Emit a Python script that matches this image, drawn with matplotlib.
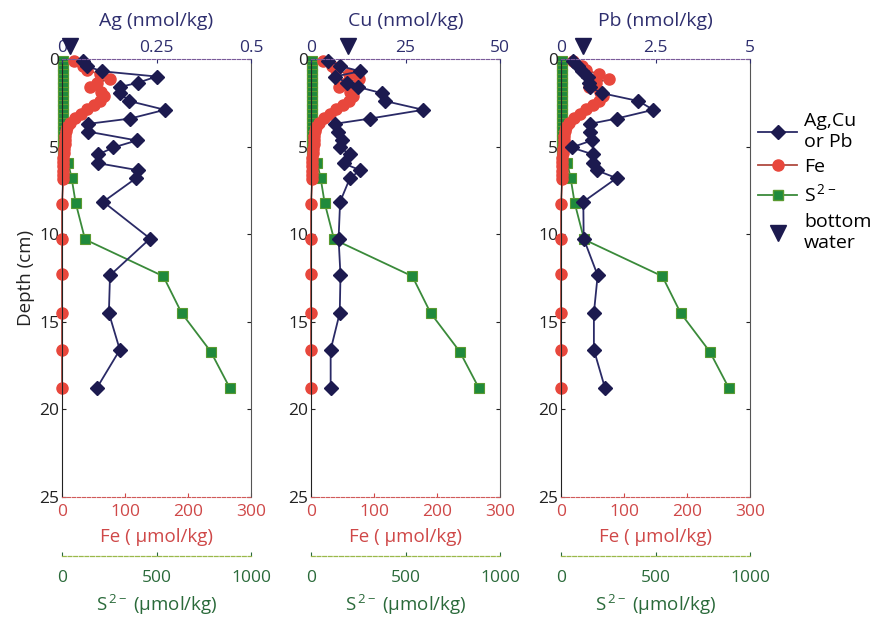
import matplotlib
matplotlib.use("Agg")
import matplotlib.pyplot as plt
from matplotlib.lines import Line2D

plt.rcParams['font.family'] = ['Open Sans', 'DejaVu Sans']
plt.rcParams['mathtext.fontset'] = 'custom'
plt.rcParams['mathtext.rm'] = 'Open Sans'
plt.rcParams['mathtext.it'] = 'Open Sans:italic'

# ---------------- data ----------------
metal_depth = [0.1, 0.4, 0.7, 1.0, 1.35, 1.6, 1.95, 2.4, 2.9, 3.4, 3.7, 4.15,
               4.65, 5.05, 5.45, 5.95, 6.35, 6.8, 8.15, 10.25, 12.35, 14.5, 16.6, 18.75]
ag = [0.056, 0.065, 0.105, 0.25, 0.202, 0.153, 0.153, 0.178, 0.272, 0.18, 0.07, 0.07,
      0.198, 0.136, 0.096, 0.096, 0.202, 0.196, 0.109, 0.233, 0.127, 0.124, 0.153, 0.093]
cu = [4.6, 7.7, 13.0, 6.3, 9.4, 12.5, 18.7, 19.6, 29.7, 15.6, 6.3, 7.2,
      8.1, 7.7, 10.3, 8.6, 13.0, 10.3, 7.7, 7.3, 7.8, 7.6, 5.2, 5.2]
pb = [0.33, 0.46, 0.55, 0.72, 0.75, 0.77, 1.08, 2.05, 2.44, 1.47, 0.77, 0.77,
      0.81, 0.28, 0.85, 0.85, 0.94, 1.47, 0.59, 0.60, 0.97, 0.87, 0.87, 1.16]

fe_depth = [0.125, 0.375, 0.625, 0.875, 1.125, 1.375, 1.625, 1.875, 2.125, 2.375,
            2.625, 2.875, 3.125, 3.375, 3.625, 3.875, 4.125, 4.375, 4.625, 4.875,
            5.125, 5.375, 5.625, 5.875, 6.125, 6.375, 6.625, 6.875,
            8.25, 10.3, 12.3, 14.5, 16.6, 18.75]
fe = [19, 34, 40, 60, 76, 55, 45, 62, 66, 60, 50, 40, 30, 20, 12, 8, 6, 5, 4, 4,
      3, 3, 2, 2, 2, 2, 2, 2, 0, 0, 0, 0, 0, 0]

s_depth = [0.125, 0.375, 0.625, 0.875, 1.125, 1.375, 1.625, 1.875, 2.125, 2.375,
           2.625, 2.875, 3.125, 3.375, 3.625, 3.875, 4.125, 4.375, 4.625, 4.875,
           5.125, 5.375, 5.95, 6.8, 8.2, 10.3, 12.4, 14.5, 16.7, 18.8]
s2 = [3, 3, 3, 3, 3, 3, 3, 3, 3, 3, 3, 3, 3, 3, 3, 3, 3, 3, 3, 3,
      3, 3, 33, 51, 72, 122, 536, 633, 787, 889]

metal_names = ['Ag (nmol/kg)', 'Cu (nmol/kg)', 'Pb (nmol/kg)']
metal_vals = [ag, cu, pb]
metal_max = [0.5, 50, 5]
metal_ticks = [[0, 0.25, 0.5], [0, 25, 50], [0, 2.5, 5]]
metal_ticklabels = [['0', '0.25', '0.5'], ['0', '25', '50'], ['0', '2.5', '5']]
bottom_water = [0.021, 9.8, 0.57]
bw_depth = -0.75

fe_ticks = [0, 100, 200, 300]
s_ticks = [0, 500, 1000]
depth_ticks = [0, 5, 10, 15, 20, 25]

# ---------------- styles ----------------
NAVY = '#1c1a4f'
NAVY_T = '#2e2e6e'
RED = '#e8473c'
RED_L = '#b04a40'
RED_T = '#cf4848'
GREEN = '#1f8a3c'
GREEN_L = '#3a8a3a'
GREEN_T = '#2a6a3a'
GREEN_E = '#5a9a30'

TICK_FS = 12.5
LABEL_FS = 13.5

fig = plt.figure(figsize=(8.82, 6.21), dpi=100)
lefts = [62 / 882, 311 / 882, 561 / 882]
bottom = 1 - 497 / 621
width = 189 / 882
height = 438 / 621

for i in range(3):
    ax = fig.add_axes([lefts[i], bottom, width, height])
    ax_s = ax.twiny()
    ax_m = ax.twiny()
    ax.patch.set_visible(False)
    ax_s.set_zorder(1)
    ax.set_zorder(2)
    ax_m.set_zorder(3)

    # depth axis
    ax.set_ylim(25, 0)
    ax.set_yticks(depth_ticks)
    ax.tick_params(axis='y', which='both', left=True, right=True, direction='in',
                   length=3, labelsize=TICK_FS, pad=2, colors='#222222')

    # Fe axis (bottom)
    ax.set_xlim(0, 300)
    ax.set_xticks(fe_ticks)
    ax.tick_params(axis='x', direction='in', length=3, labelsize=TICK_FS, pad=5,
                   colors=RED_T, top=False)
    ax.set_xlabel('Fe ( \u00b5mol/kg)', color=RED_T, fontsize=LABEL_FS, labelpad=6)
    ax.spines['top'].set_visible(False)
    ax.spines['left'].set_color('#222222')
    ax.spines['right'].set_color('#555555')
    ax.spines['bottom'].set_color('#d05a5a')
    ax.spines['bottom'].set_linestyle((0, (3, 1.5)))
    ax.plot(fe, fe_depth, '-o', color=RED_L, mfc=RED, mec=RED, ms=8, lw=1.3,
            clip_on=False)

    # S axis (outer bottom)
    ax_s.xaxis.set_ticks_position('bottom')
    ax_s.xaxis.set_label_position('bottom')
    ax_s.spines['bottom'].set_position(('outward', 42.5))
    for sp in ['top', 'left', 'right']:
        ax_s.spines[sp].set_visible(False)
    ax_s.spines['bottom'].set_color('#9ab84a')
    ax_s.spines['bottom'].set_linestyle((0, (3, 1.5)))
    ax_s.spines['bottom'].set_linewidth(0.9)
    ax_s.set_xlim(0, 1000)
    ax_s.set_xticks(s_ticks)
    ax_s.tick_params(axis='x', direction='in', length=3, labelsize=TICK_FS, pad=10,
                     colors=GREEN_T)
    ax_s.set_xlabel('S$^{\\,2-}$ (\u00b5mol/kg)', color=GREEN_T, fontsize=LABEL_FS,
                    labelpad=5)
    ax_s.plot(s2, s_depth, '-s', color=GREEN_L, mfc=GREEN, mec=GREEN_E, ms=7,
              mew=0.8, lw=1.3, clip_on=False)

    # metal axis (top)
    for sp in ['bottom', 'left', 'right']:
        ax_m.spines[sp].set_visible(False)
    ax_m.spines['top'].set_color('#7a5a9a')
    ax_m.spines['top'].set_linestyle((0, (3, 1.5)))
    ax_m.set_xlim(0, metal_max[i])
    ax_m.set_xticks(metal_ticks[i])
    ax_m.set_xticklabels(metal_ticklabels[i])
    ax_m.tick_params(axis='x', direction='in', length=3, labelsize=TICK_FS, pad=2,
                     colors=NAVY_T)
    ax_m.set_xlabel(metal_names[i], color=NAVY_T, fontsize=LABEL_FS + 0.5, labelpad=10)
    ax_m.plot(metal_vals[i], metal_depth, '-D', color='#2a2a66', mfc=NAVY,
              mec=NAVY, ms=7.5, lw=1.3, clip_on=False)
    ax_m.plot([bottom_water[i]], [bw_depth], 'v', color=NAVY, ms=11.5,
              clip_on=False)

    if i == 0:
        ax.set_ylabel('Depth (cm)', fontsize=LABEL_FS, color='#222222', labelpad=3)

handles = [
    Line2D([], [], color='#2a2a66', marker='D', mfc=NAVY, mec=NAVY, ms=7.5, lw=1.3),
    Line2D([], [], color=RED_L, marker='o', mfc=RED, mec=RED, ms=8, lw=1.3),
    Line2D([], [], color=GREEN_L, marker='s', mfc=GREEN, mec=GREEN_E, ms=7, lw=1.3),
    Line2D([], [], color=NAVY, marker='v', ls='none', ms=11.5),
]
labels = ['Ag,Cu\nor Pb', 'Fe', 'S$^{\\,2-}$', 'bottom\nwater']
fig.legend(handles, labels, loc='upper left', bbox_to_anchor=(0.851, 0.832),
           frameon=False, fontsize=14, handlelength=2.0, handletextpad=0.35,
           labelspacing=0.38, borderaxespad=0)

fig.savefig('out.png', dpi=100, facecolor='white')
